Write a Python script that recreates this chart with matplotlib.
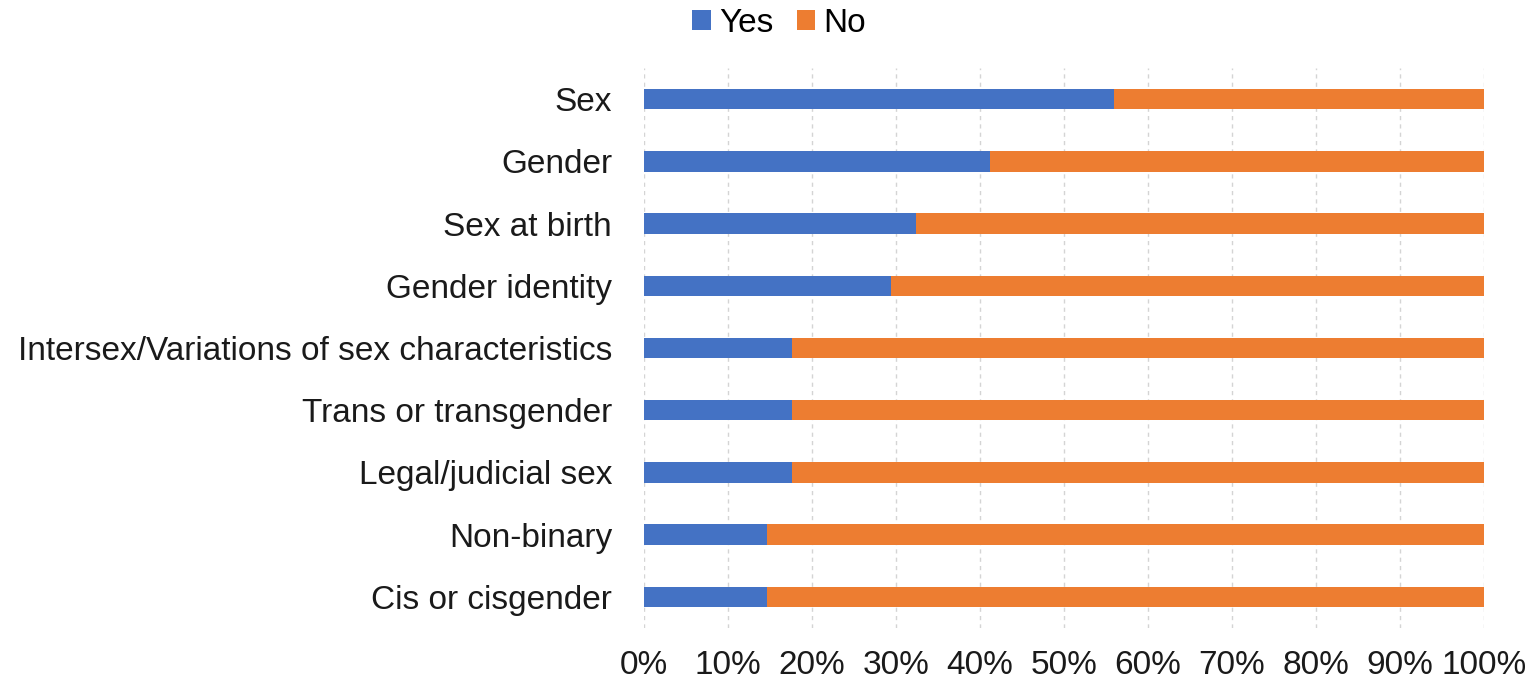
import numpy as np
import matplotlib.pyplot as plt

plt.rcParams['font.family'] = ['Liberation Sans', 'DejaVu Sans']

categories = ['Sex', 'Gender', 'Sex at birth', 'Gender identity',
              'Intersex/Variations of sex characteristics', 'Trans or transgender',
              'Legal/judicial sex', 'Non-binary', 'Cis or cisgender']
yes_pct = [55.9, 41.2, 32.4, 29.4, 17.6, 17.6, 17.6, 14.7, 14.7]
no_pct = [100 - v for v in yes_pct]
ticks = list(range(0, 101, 10))
tick_labels = ['%d%%' % t for t in ticks]

blue = '#4472C4'
orange = '#ED7D31'

fig = plt.figure(figsize=(15.3, 6.81), dpi=100)
ax = fig.add_axes([644/1530, 1 - 628/681, 840/1530, (628 - 68)/681])

y = np.arange(len(categories))
ax.barh(y, yes_pct, height=0.33, color=blue, label='Yes', zorder=3)
ax.barh(y, no_pct, left=yes_pct, height=0.33, color=orange, label='No', zorder=3)

ax.set_ylim(len(categories) - 0.5, -0.5)
ax.set_xlim(0, 100)
ax.set_yticks(y)
ax.set_yticklabels(categories, fontsize=24, color='#1a1a1a')
ax.set_xticks(ticks)
ax.set_xticklabels(tick_labels, fontsize=24, color='#1a1a1a')
ax.tick_params(length=0)
ax.tick_params(axis='y', pad=23)
ax.tick_params(axis='x', pad=16)
ax.xaxis.grid(True, linestyle=(0, (3, 3)), color='#d4d4d4', linewidth=1)
for s in ax.spines.values():
    s.set_visible(False)

ax.legend(loc='center', bbox_to_anchor=(779/1530, 1 - 23/681), bbox_transform=fig.transFigure,
          ncol=2, frameon=False, fontsize=24, handlelength=0.55, handleheight=0.55,
          handletextpad=0.25, columnspacing=0.7, borderpad=0)

fig.savefig('out.png', dpi=100)
